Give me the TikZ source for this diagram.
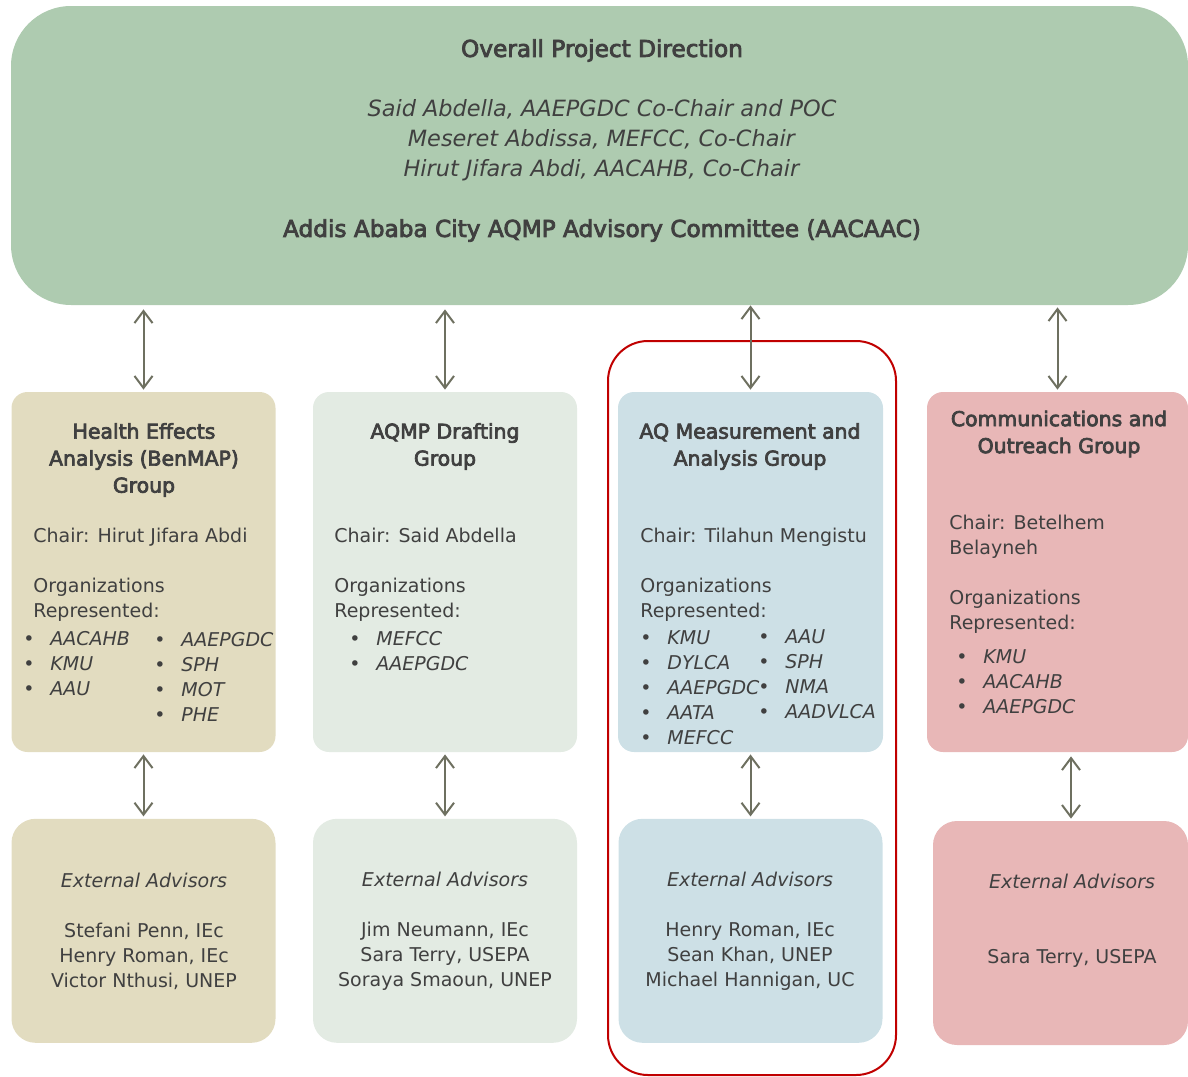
\documentclass[tikz,border=0pt]{standalone}
\usepackage{fontspec}
\setmainfont{DejaVu Sans}
\newfontfamily\headfont[FakeBold=3.5]{DejaVu Sans}
\usetikzlibrary{positioning, arrows.meta}

\definecolor{topgreen}{RGB}{174,203,176}
\definecolor{healthtan}{RGB}{226,220,192}
\definecolor{draftgreen}{RGB}{227,235,227}
\definecolor{aqblue}{RGB}{205,224,230}
\definecolor{commpink}{RGB}{232,183,183}
\definecolor{arrowgrey}{RGB}{110,112,96}
\definecolor{darktext}{RGB}{64,64,64}
\definecolor{focusred}{RGB}{192,0,0}

\newcommand{\org}[1]{\makebox[13.5pt][l]{\textbullet}\textit{#1}}

\tikzset{
  box/.style={draw=none, inner sep=0pt},
  groupbox/.style={box, rounded corners=8pt, minimum width=132pt, minimum height=180pt},
  advbox/.style={box, rounded corners=12pt, minimum width=132pt, minimum height=112pt},
  titletext/.style={align=center, inner sep=0pt, text=darktext, font=\headfont\fontsize{10.2}{13.5}\selectfont},
  bodytext/.style={align=left, anchor=west, inner sep=0pt, text=darktext, font=\fontsize{9.5}{12.5}\selectfont},
  advtext/.style={align=center, inner sep=0pt, text=darktext, font=\fontsize{9.5}{12.5}\selectfont},
  dblarrow/.style={<->, draw=arrowgrey, line width=1pt, >={Straight Barb[length=6pt,width=9pt]}},
}

\begin{document}
\begin{tikzpicture}[x=0.5pt, y=-0.5pt]
    \useasboundingbox (0,0) rectangle (1188,1076);

    % red frame round the measurement column
    \node (focus) [draw=focusred, line width=1pt, rounded corners=20pt, minimum width=144pt, minimum height=367pt] at (752,708) {};

    % top box
    \node (top) [box, fill=topgreen, rounded corners=30pt, minimum width=588.5pt, minimum height=149.5pt] at (599.5,155.5) {};
    \node (toptext) [align=center, inner sep=0pt, text=darktext, font=\fontsize{11.2}{15}\selectfont] at (602,140.5)
        {{\headfont\fontsize{11.6}{15}\selectfont Overall Project Direction}\\[15pt]
         \textit{Said Abdella, AAEPGDC Co-Chair and POC}\\
         \textit{Meseret Abdissa, MEFCC, Co-Chair}\\
         \textit{Hirut Jifara Abdi, AACAHB, Co-Chair}\\[15pt]
         {\headfont\fontsize{11.6}{15}\selectfont Addis Ababa City AQMP Advisory Committee (AACAAC)}};

    % working groups
    \node (health) [groupbox, fill=healthtan] at (143.5,572) {};
    \node (draft) [groupbox, fill=draftgreen] at (445,572) {};
    \node (aq) [groupbox, fill=aqblue, minimum width=132.5pt] at (750.5,572) {};
    \node (comm) [groupbox, fill=commpink, minimum width=130.5pt] at (1057.5,572) {};

    % external advisors
    \node (healthadv) [advbox, fill=healthtan, below=33pt of health] {};
    \node (draftadv) [advbox, fill=draftgreen, below=33pt of draft] {};
    \node (aqadv) [advbox, fill=aqblue, below=33pt of aq] {};
    \node (commadv) [advbox, fill=commpink, minimum width=127.5pt] at (1060.5,933) {};

    % health group text
    \node (healthtitle) [titletext] at (144,460) {Health Effects\\Analysis (BenMAP)\\Group};
    \node (healthbody) [bodytext] at (33,574.5) {Chair: Hirut Jifara Abdi\\[12.5pt]Organizations\\Represented:};
    \node (healthorgsa) [bodytext] at (23,664) {\org{AACAHB}\\\org{KMU}\\\org{AAU}};
    \node (healthorgsb) [bodytext] at (154,676.5) {\org{AAEPGDC}\\\org{SPH}\\\org{MOT}\\\org{PHE}};

    % drafting group text
    \node (drafttitle) [titletext] at (445,446.5) {AQMP Drafting\\Group};
    \node (draftbody) [bodytext] at (334,574.5) {Chair: Said Abdella\\[12.5pt]Organizations\\Represented:};
    \node (draftorgs) [bodytext] at (349,651.5) {\org{MEFCC}\\\org{AAEPGDC}};

    % measurement group text
    \node (aqtitle) [titletext] at (750,446.5) {AQ Measurement and\\Analysis Group};
    \node (aqbody) [bodytext] at (640,574.5) {Chair: Tilahun Mengistu\\[12.5pt]Organizations\\Represented:};
    \node (aqorgsa) [bodytext] at (640,687.5) {\org{KMU}\\\org{DYLCA}\\\org{AAEPGDC}\\\org{AATA}\\\org{MEFCC}};
    \node (aqorgsb) [bodytext] at (758,674.5) {\org{AAU}\\\org{SPH}\\\org{NMA}\\\org{AADVLCA}};

    % communications group text
    \node (commtitle) [titletext] at (1059,434) {Communications and\\Outreach Group};
    \node (commbody) [bodytext] at (949,574) {Chair: Betelhem\\Belayneh\\[12.5pt]Organizations\\Represented:};
    \node (commorgs) [bodytext] at (956,682) {\org{KMU}\\\org{AACAHB}\\\org{AAEPGDC}};

    % advisors text
    \node (healthadvtext) [advtext] at (144,931) {\textit{External Advisors}\\[12.5pt]Stefani Penn, IEc\\Henry Roman, IEc\\Victor Nthusi, UNEP};
    \node (draftadvtext) [advtext] at (445,931) {\textit{External Advisors}\\[12.5pt]Jim Neumann, IEc\\Sara Terry, USEPA\\Soraya Smaoun, UNEP};
    \node (aqadvtext) [advtext] at (750,931) {\textit{External Advisors}\\[12.5pt]Henry Roman, IEc\\Sean Khan, UNEP\\Michael Hannigan, UC};
    \node (commadvtext) [advtext] at (1072,920.5) {\textit{External Advisors}\\[25pt]Sara Terry, USEPA};

    % connectors
    \draw[dblarrow, shorten <=2pt, shorten >=1pt] (top.south -| health.north) -- (health.north);
    \draw[dblarrow, shorten <=2pt, shorten >=1pt] (top.south -| draft.north) -- (draft.north);
    \draw[dblarrow, shorten >=1pt] (top.south -| aq.north) -- (aq.north);
    \draw[dblarrow, shorten <=1pt, shorten >=1pt] (top.south -| comm.north) -- (comm.north);
    \draw[dblarrow, shorten <=1pt, shorten >=1pt] (health.south) -- (healthadv.north);
    \draw[dblarrow, shorten <=1pt, shorten >=1pt] (draft.south) -- (draftadv.north);
    \draw[dblarrow, shorten <=1pt, shorten >=1pt] (aq.south) -- (aqadv.north);
    \draw[dblarrow, shorten <=2pt, shorten >=1pt] ([xshift=5.25pt]commadv.north |- comm.south) -- ([xshift=5.25pt]commadv.north);
\end{tikzpicture}
\end{document}
